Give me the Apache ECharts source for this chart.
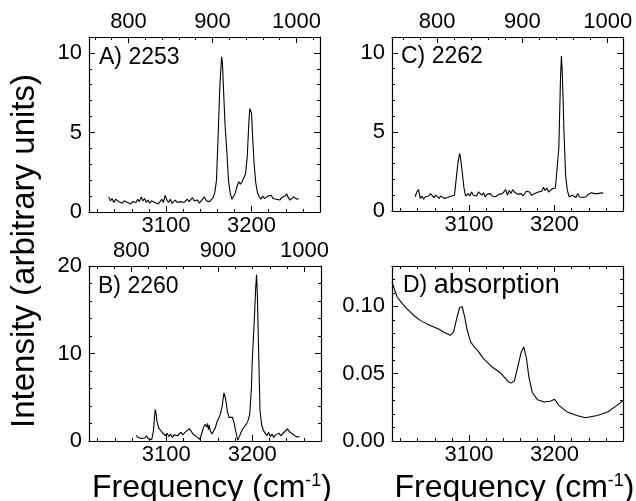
<!DOCTYPE html>
<html><head><meta charset="utf-8">
<script src="https://cdn.jsdelivr.net/npm/echarts@6/dist/echarts.min.js"></script>
<style>html,body{margin:0;padding:0;background:#fff}#c{width:636px;height:501px}</style>
</head><body><div id="c"></div>
<script>
// ---------- data ----------
const freqA = [3033,3035,3037,3039,3041,3043,3045,3047,3049,3051,3053,3055,3057,3059,3061,3063,3065,3067,3069,3071,3073,3075,3077,3079,3081,3083,3085,3087,3089,3091,3093,3095,3097,3099,3101,3103,3105,3107,3109,3111,3113,3115,3117,3119,3121,3123,3125,3127,3129,3131,3133,3135,3137,3139,3141,3143,3145,3147,3149,3151,3153,3155,3157,3159,3161,3163,3165,3166,3167,3169,3171,3173,3175,3177,3179,3181,3183,3185,3187,3189,3191,3193,3195,3197,3198,3199,3200,3201,3203,3205,3207,3209,3211,3213,3215,3217,3219,3221,3223,3225,3227,3229,3231,3233,3235,3237,3239,3241,3243,3245,3247,3249,3251,3253,3255];
const intA  = [0.95,0.7,0.85,0.6,0.8,0.9,0.65,0.75,0.55,0.7,0.8,0.6,0.7,0.5,0.65,0.75,0.6,0.8,0.65,0.95,0.7,0.85,0.6,0.75,0.55,0.7,0.8,0.6,0.7,0.5,0.65,0.8,0.6,1.05,0.75,0.6,0.8,0.55,0.65,0.75,0.6,0.7,0.65,0.75,0.6,0.7,0.8,0.65,0.75,0.9,0.7,0.6,0.75,0.55,0.7,0.6,0.95,0.7,0.6,0.65,0.7,0.9,1.2,2.0,4.9,8.0,9.75,9.3,8.0,5.5,3.9,2.0,1.2,0.8,0.9,1.2,1.6,1.9,1.75,1.9,2.0,2.4,3.5,5.8,6.5,6.55,6.2,5.0,3.0,1.8,1.2,0.95,0.8,1.0,0.85,0.75,1.0,0.9,1.05,0.85,0.95,0.8,0.85,0.75,0.9,0.8,1.0,1.15,0.9,0.75,0.8,0.95,0.85,0.8,0.85];

const freqB = [3065,3067,3069,3071,3073,3075,3077,3079,3081,3083,3085,3087,3088,3089,3091,3093,3095,3097,3099,3101,3103,3105,3107,3109,3111,3113,3115,3117,3119,3121,3123,3125,3127,3129,3131,3133,3135,3137,3139,3141,3143,3145,3147,3148,3149,3150,3151,3153,3155,3157,3159,3161,3163,3165,3167,3168,3169,3171,3173,3175,3177,3179,3181,3183,3185,3187,3189,3191,3193,3195,3197,3199,3200,3202,3204,3205,3206,3207,3209,3211,3213,3215,3217,3219,3221,3223,3225,3227,3229,3231,3233,3235,3237,3239,3241,3243,3245,3247,3249,3251,3253,3255];
const intB  = [0.65,0.4,0.55,0.3,0.5,0.35,0.6,0.25,0.4,0.15,1.2,3.6,3.2,2.3,1.5,1.7,1.0,1.2,0.6,0.9,0.5,0.8,0.4,0.7,0.9,0.6,0.8,1.0,0.7,0.9,1.1,1.0,1.4,1.1,0.8,0.6,0.5,0.4,0.2,0.8,1.5,1.9,1.6,2.0,1.3,1.8,1.2,0.8,0.6,1.5,2.2,2.6,3.1,4.0,5.5,5.6,4.8,3.4,2.7,2.5,2.7,2.0,1.0,0.1,0.5,1.0,1.4,1.6,1.9,2.3,3.0,6.0,9.2,13.0,17.5,19.0,16.5,11.9,3.5,1.8,1.2,0.9,0.6,1.0,0.5,0.8,0.4,0.7,0.5,0.9,0.6,0.8,1.0,1.2,1.4,1.1,1.2,0.8,0.7,0.5,0.6,0.45];

const freqC = [3037,3039,3041,3042,3043,3045,3047,3049,3051,3053,3055,3057,3059,3061,3063,3065,3067,3069,3071,3073,3075,3077,3079,3081,3083,3085,3087,3089,3090,3092,3094,3096,3099,3101,3103,3105,3107,3109,3111,3113,3115,3117,3119,3121,3123,3125,3127,3129,3131,3133,3135,3137,3139,3141,3143,3145,3147,3149,3151,3153,3155,3157,3159,3161,3163,3165,3167,3169,3171,3173,3175,3177,3179,3181,3183,3185,3187,3189,3191,3193,3195,3197,3199,3201,3203,3205,3207,3208,3209,3210,3211,3213,3215,3217,3219,3221,3223,3225,3227,3229,3231,3233,3235,3237,3239,3241,3243,3245,3247,3249,3251,3253,3255,3257];
const intC  = [0.9,1.2,1.35,1.4,0.8,0.95,0.75,0.9,0.8,0.95,1.1,1.2,0.85,1.0,0.9,0.8,0.95,0.85,0.8,0.9,0.85,0.9,0.95,0.9,1.0,2.0,3.0,3.65,3.4,2.5,1.5,0.95,1.1,0.95,1.2,1.0,1.1,0.95,1.2,1.1,1.0,1.15,0.9,1.05,1.0,1.1,0.95,1.05,0.9,1.0,1.05,0.95,1.1,1.0,1.35,1.0,1.3,1.1,1.35,1.2,1.1,1.05,1.0,1.1,0.95,1.05,1.25,1.35,1.2,1.0,0.9,1.1,1.0,1.2,1.1,1.25,1.5,1.3,1.45,1.2,1.3,1.4,1.35,1.45,1.5,4.0,8.5,9.8,8.8,7.0,5.0,2.2,1.3,0.9,0.85,1.0,0.9,0.85,1.1,0.9,1.0,0.85,0.95,0.9,1.05,1.0,1.15,1.05,1.1,1.0,1.1,1.05,1.15,1.1];

const freqD = [3010,3016,3022,3028,3036,3043,3051,3059,3065,3070,3075,3078,3082,3086,3089,3092,3095,3098,3102,3106,3110,3117,3127,3137,3145,3149,3153,3157,3161,3164,3167,3170,3174,3180,3188,3195,3200,3205,3215,3226,3236,3250,3262,3273,3280];
const absD  = [0.118,0.107,0.102,0.098,0.093,0.0896,0.087,0.0846,0.083,0.081,0.0795,0.0785,0.081,0.092,0.099,0.1,0.092,0.082,0.0735,0.070,0.0673,0.0612,0.055,0.0505,0.0446,0.043,0.0446,0.055,0.066,0.0698,0.062,0.0475,0.036,0.0307,0.029,0.0295,0.031,0.0265,0.0215,0.019,0.0173,0.019,0.0215,0.0265,0.030];

const bottomTickLabels = [3100, 3200];
const bottomMinor = [3020,3040,3060,3080,3120,3140,3160,3180,3220,3240,3260,3280];
const topTickLabels = [800, 900, 1000];
const topMinor = [760,780,820,840,860,880,920,940,960,980,1020];
const yLabelsA = [0, 5, 10];
const yMinorA = [1,2,3,4,6,7,8,9,11];
const yLabelsB = [0, 10, 20];
const yMinorB = [2,4,6,8,12,14,16,18];
const yLabelsD = [0.00, 0.05, 0.10];
const yMinorD = [0.01,0.02,0.03,0.04,0.06,0.07,0.08,0.09,0.11,0.12];
const panelLabels = ['A) 2253', 'B) 2260', 'C) 2262'];

// ---------- layout ----------
const FONT = "'Liberation Sans', Arial, Helvetica, sans-serif";
const grids = [
  {left: 89, top: 37, width: 231, height: 175},   // A
  {left: 89, top: 266, width: 232, height: 175},  // B
  {left: 392, top: 37, width: 231, height: 174},  // C
  {left: 392, top: 266, width: 231, height: 175}  // D
];
const panels = [
  {x: freqA, y: intA, ymin: 0, ymax: 11, yl: yLabelsA, ym: yMinorA, top: [753, 1028], dec: 0},
  {x: freqB, y: intB, ymin: 0, ymax: 20, yl: yLabelsB, ym: yMinorB, top: [751, 1019], dec: 0},
  {x: freqC, y: intC, ymin: 0, ymax: 11, yl: yLabelsA, ym: yMinorA, top: [747, 1018], dec: 0},
  {x: freqD, y: absD, ymin: 0, ymax: 0.13, yl: yLabelsD, ym: yMinorD, top: null, dec: 2}
];

const xAxes = [], yAxes = [], series = [];
const lineStyle = {color: '#000', width: 1.2};
function tick(vals, len) { return {show: true, inside: true, length: len, customValues: vals, lineStyle: {color: '#000', width: 1}}; }

panels.forEach((p, gi) => {
  const labelStyle = {show: true, color: '#000', fontSize: 22, fontFamily: FONT, formatter: v => String(v)};
  const bottomMain = {
    type: 'value', gridIndex: gi, position: 'bottom', min: 3010, max: 3280,
    axisLine: {show: true, onZero: false, lineStyle},
    axisTick: tick(bottomTickLabels, 6),
    axisLabel: Object.assign({}, labelStyle, {customValues: bottomTickLabels, margin: 3}),
    splitLine: {show: false}
  };
  if (gi === 1 || gi === 3) {
    bottomMain.name = 'Frequency (cm{sup|-1})';
    bottomMain.nameLocation = 'middle';
    bottomMain.nameGap = 31;
    bottomMain.nameTextStyle = {
      color: '#000', fontSize: 32, fontFamily: FONT, padding: [0, 0, 0, 14],
      rich: {sup: {fontSize: 18, fontFamily: FONT, color: '#000', verticalAlign: 'top', padding: [0, 0, 14, 0]}}
    };
  }
  const bIdx = xAxes.length;
  xAxes.push(bottomMain);
  xAxes.push({type: 'value', gridIndex: gi, position: 'bottom', min: 3010, max: 3280,
    axisLine: {show: false, onZero: false}, axisTick: tick(bottomMinor, 3), axisLabel: {show: false}, splitLine: {show: false}});
  if (p.top) {
    xAxes.push({type: 'value', gridIndex: gi, position: 'top', min: p.top[0], max: p.top[1],
      axisLine: {show: true, onZero: false, lineStyle}, axisTick: tick(topTickLabels, 6),
      axisLabel: Object.assign({}, labelStyle, {customValues: topTickLabels, margin: 4}), splitLine: {show: false}});
    xAxes.push({type: 'value', gridIndex: gi, position: 'top', min: p.top[0], max: p.top[1],
      axisLine: {show: false, onZero: false}, axisTick: tick(topMinor, 3), axisLabel: {show: false}, splitLine: {show: false}});
  } else {
    xAxes.push({type: 'value', gridIndex: gi, position: 'top', min: 3010, max: 3280,
      axisLine: {show: true, onZero: false, lineStyle}, axisTick: tick(bottomTickLabels, 6), axisLabel: {show: false}, splitLine: {show: false}});
    xAxes.push({type: 'value', gridIndex: gi, position: 'top', min: 3010, max: 3280,
      axisLine: {show: false, onZero: false}, axisTick: tick(bottomMinor, 3), axisLabel: {show: false}, splitLine: {show: false}});
  }
  const lIdx = yAxes.length;
  yAxes.push({type: 'value', gridIndex: gi, position: 'left', min: p.ymin, max: p.ymax,
    axisLine: {show: true, onZero: false, lineStyle}, axisTick: tick(p.yl, 6),
    axisLabel: Object.assign({}, labelStyle, {customValues: p.yl, margin: 7, formatter: v => v.toFixed(p.dec)}),
    splitLine: {show: false}});
  yAxes.push({type: 'value', gridIndex: gi, position: 'left', min: p.ymin, max: p.ymax,
    axisLine: {show: false, onZero: false}, axisTick: tick(p.ym, 3), axisLabel: {show: false}, splitLine: {show: false}});
  yAxes.push({type: 'value', gridIndex: gi, position: 'right', min: p.ymin, max: p.ymax,
    axisLine: {show: true, onZero: false, lineStyle}, axisTick: tick(p.yl, 6), axisLabel: {show: false}, splitLine: {show: false}});
  yAxes.push({type: 'value', gridIndex: gi, position: 'right', min: p.ymin, max: p.ymax,
    axisLine: {show: false, onZero: false}, axisTick: tick(p.ym, 3), axisLabel: {show: false}, splitLine: {show: false}});
  series.push({
    type: 'line', xAxisIndex: bIdx, yAxisIndex: lIdx, symbol: 'none', silent: true, animation: false,
    lineStyle: {color: '#000', width: 1.1},
    data: p.x.map((f, i) => [f, p.y[i]])
  });
});

const chart = echarts.init(document.getElementById('c'), null, {renderer: 'canvas'});
chart.setOption({
  backgroundColor: '#fff',
  animation: false,
  grid: grids.map(g => Object.assign({outerBoundsMode: 'none', containLabel: false}, g)),
  xAxis: xAxes,
  yAxis: yAxes,
  series: series,
  graphic: [
    {type: 'text', x: 25, y: 251, rotation: Math.PI / 2,
      style: {text: 'Intensity (arbitrary units)', fill: '#000', font: '33px ' + FONT, textAlign: 'center', textVerticalAlign: 'middle'}},
    {type: 'text', left: 99, top: 46, style: {text: panelLabels[0], fill: '#000', font: '23px ' + FONT}},
    {type: 'text', left: 98, top: 275, style: {text: panelLabels[1], fill: '#000', font: '23px ' + FONT}},
    {type: 'text', left: 401, top: 45, style: {text: panelLabels[2], fill: '#000', font: '23px ' + FONT}},
    {type: 'text', left: 403, top: 272, style: {
      text: '{d|D)} {a|absorption}',
      rich: {d: {fontSize: 23, fontFamily: FONT, fill: '#000'}, a: {fontSize: 27, fontFamily: FONT, fill: '#000'}},
      fill: '#000', font: '23px ' + FONT}}
  ]
});
</script></body></html>
